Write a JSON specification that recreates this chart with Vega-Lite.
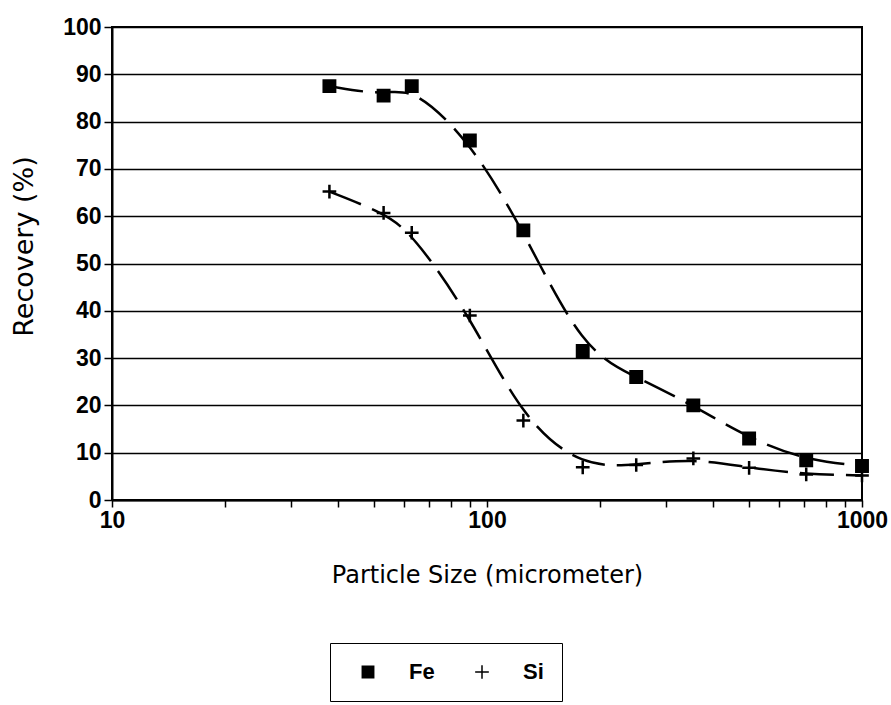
{
  "$schema": "https://vega.github.io/schema/vega-lite/v6.json",
  "width": 750,
  "height": 473,
  "autosize": {"type": "none"},
  "padding": {"left": 112, "top": 27, "right": 29, "bottom": 205},
  "background": "white",
  "config": {
    "view": {"stroke": "black", "strokeWidth": 2},
    "axis": {
      "domainColor": "black",
      "domainWidth": 2,
      "tickColor": "black",
      "tickWidth": 1.5,
      "labelColor": "black",
      "labelFont": "Liberation Sans",
      "labelFontWeight": "bold",
      "labelFontSize": 23,
      "titleColor": "black",
      "titleFont": "DejaVu Sans",
      "titleFontWeight": "normal"
    }
  },
  "data": {
    "values": [
      {"element": "Fe", "size": 38, "recovery": 87.5},
      {"element": "Fe", "size": 53, "recovery": 85.5},
      {"element": "Fe", "size": 63, "recovery": 87.5},
      {"element": "Fe", "size": 90, "recovery": 76},
      {"element": "Fe", "size": 125, "recovery": 57},
      {"element": "Fe", "size": 180, "recovery": 31.5},
      {"element": "Fe", "size": 250, "recovery": 26},
      {"element": "Fe", "size": 355, "recovery": 20},
      {"element": "Fe", "size": 500, "recovery": 13},
      {"element": "Fe", "size": 710, "recovery": 8.4},
      {"element": "Fe", "size": 1000, "recovery": 7.2},
      {"element": "Si", "size": 38, "recovery": 65.2},
      {"element": "Si", "size": 53, "recovery": 60.7},
      {"element": "Si", "size": 63, "recovery": 56.5},
      {"element": "Si", "size": 90, "recovery": 39},
      {"element": "Si", "size": 125, "recovery": 16.8},
      {"element": "Si", "size": 180, "recovery": 6.9},
      {"element": "Si", "size": 250, "recovery": 7.4},
      {"element": "Si", "size": 355, "recovery": 8.8},
      {"element": "Si", "size": 500, "recovery": 6.8},
      {"element": "Si", "size": 710, "recovery": 5.4},
      {"element": "Si", "size": 1000, "recovery": 5.2}
    ]
  },
  "encoding": {
    "x": {
      "field": "size",
      "type": "quantitative",
      "scale": {"type": "log", "domain": [10, 1000], "nice": false},
      "axis": {
        "title": "Particle Size (micrometer)",
        "titleFontSize": 24,
        "titlePadding": 31,
        "values": [10, 20, 30, 40, 50, 60, 70, 80, 90, 100, 200, 300, 400, 500, 600, 700, 800, 900, 1000],
        "labelExpr": "datum.value == 10 || datum.value == 100 || datum.value == 1000 ? format(datum.value, 'd') : ''",
        "labelOverlap": false,
        "labelFlush": false,
        "labelPadding": 2,
        "tickSize": 7,
        "grid": false
      }
    },
    "y": {
      "field": "recovery",
      "type": "quantitative",
      "scale": {"domain": [0, 100], "nice": false},
      "axis": {
        "title": "Recovery (%)",
        "titleFontSize": 27,
        "titlePadding": 24,
        "titleY": 219,
        "values": [0, 10, 20, 30, 40, 50, 60, 70, 80, 90, 100],
        "tickSize": 8,
        "labelPadding": 3,
        "grid": true,
        "gridColor": "black",
        "gridWidth": 1.5,
        "gridOpacity": 1
      }
    }
  },
  "layer": [
    {
      "mark": {"type": "line", "interpolate": "basis", "color": "black", "strokeWidth": 2.5, "strokeDash": [34, 12]},
      "encoding": {"detail": {"field": "element", "type": "nominal"}}
    },
    {
      "mark": {"type": "point", "filled": true, "fill": "black", "stroke": "black", "strokeWidth": 2.5, "opacity": 1, "size": 130},
      "encoding": {
        "shape": {
          "field": "element",
          "type": "nominal",
          "scale": {"domain": ["Fe", "Si"], "range": ["square", "M-1.2,0H1.2M0,-1.2V1.2"]},
          "legend": {
            "title": null,
            "orient": "none",
            "legendX": 218,
            "legendY": 616,
            "direction": "horizontal",
            "strokeColor": "black",
            "fillColor": "white",
            "padding": 18,
            "symbolOffset": 9,
            "symbolSize": 130,
            "labelFont": "Liberation Sans",
            "labelFontWeight": "bold",
            "labelFontSize": 22,
            "labelColor": "black",
            "labelOffset": 30,
            "columnPadding": 27,
            "encode": {
              "symbols": {
                "update": {
                  "shape": {"signal": "datum.value === 'Si' ? 'M-1.2,0H1.2M0,-1.2V1.2' : 'square'"},
                  "stroke": {"value": "black"},
                  "strokeWidth": {"value": 2.5},
                  "fill": {"value": "black"},
                  "opacity": {"value": 1},
                  "strokeOpacity": {"value": 1},
                  "fillOpacity": {"value": 1}
                }
              }
            }
          }
        }
      }
    }
  ]
}
